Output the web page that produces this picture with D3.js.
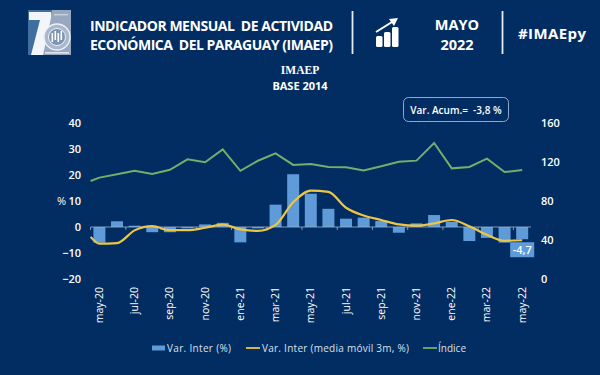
<!DOCTYPE html>
<html><head><meta charset="utf-8">
<script src="https://cdnjs.cloudflare.com/ajax/libs/d3/7.8.5/d3.min.js"></script>
<style>
html,body{margin:0;padding:0;background:#022d63;overflow:hidden}
svg{display:block}
text{font-family:"Open Sans",sans-serif;fill:#fff}
</style></head><body>
<svg id="c" width="600" height="375"></svg>
<script>
const categories=["may-20","jun-20","jul-20","ago-20","sep-20","oct-20","nov-20","dic-20","ene-21","feb-21","mar-21","abr-21","may-21","jun-21","jul-21","ago-21","sep-21","oct-21","nov-21","dic-21","ene-22","feb-22","mar-22","abr-22","may-22"];
const tickLabels=["may-20","jul-20","sep-20","nov-20","ene-21","mar-21","may-21","jul-21","sep-21","nov-21","ene-22","mar-22","may-22"];
const varInter=[-6,2.2,0.5,-2,-2,-0.5,1,1.6,-5.9,-0.5,8.6,20.3,12.8,7,3.2,3.6,2.3,-2.2,1.4,4.6,2,-5.4,-4.2,-6,-4.7];
const media3m=[-6.4,-6.2,-1.3,0.3,-1.2,-1.2,-0.3,0.9,-0.9,-1.5,0.8,9.5,14,13.5,7.4,4.4,2.7,1,0.5,1.4,2.7,0.3,-3,-5.3,-5.1];
const indice=[104,107.4,111,107.7,112,122.7,119.7,133,111,121.3,128.9,117,118,114.9,114.5,111.4,115.6,120.3,121.4,139.5,113.5,114.9,123.4,109.7,111.8];
const mediaLead=-3.8, indiceLead=100.5;
const leftTicks=[40,30,20,10,0,-10,-20];
const rightTicks=[160,120,80,40,0];
const legendItems=["Var. Inter (%)","Var. Inter (media móvil 3m, %)","Índice"];
const colBar="#5f9bd8",colMed="#eec643",colIdx="#73ae6a",txt2="#d8e0ec";

const svg=d3.select("#c");
const x=d3.scaleBand().domain(categories).range([90.6,531]);
const yL=d3.scaleLinear().domain([-20,40]).range([279,123]);
const yR=d3.scaleLinear().domain([0,160]).range([279,123]);
const cx=c=>x(c)+x.bandwidth()/2;
const barW=x.bandwidth()*0.68;

// header
const title=[["INDICADOR MENSUAL  DE ACTIVIDAD",31],["ECONÓMICA  DEL PARAGUAY (IMAEP)",50]];
svg.selectAll("text.t").data(title).join("text").attr("class","t")
 .attr("x",90).attr("y",d=>d[1]).attr("font-size",14).attr("font-weight",700)
 .attr("textLength",243).attr("lengthAdjust","spacing").attr("xml:space","preserve").style("white-space","pre").text(d=>d[0]);
[352.5,502.5].forEach(v=>svg.append("line").attr("x1",v).attr("x2",v).attr("y1",11).attr("y2",54).attr("stroke","#e6ecf4").attr("stroke-width",1.8));
svg.append("text").attr("x",457).attr("y",30).attr("text-anchor","middle").attr("font-size",14.5).attr("font-weight",700).text("MAYO");
svg.append("text").attr("x",457).attr("y",50).attr("text-anchor","middle").attr("font-size",14.5).attr("font-weight",700).text("2022");
svg.append("text").attr("x",518).attr("y",39).attr("font-size",15).attr("font-weight",700).attr("textLength",68).text("#IMAEpy");
svg.append("text").attr("x",300).attr("y",74).attr("text-anchor","middle").attr("font-size",11.5).attr("font-weight",700).style("font-family","'Liberation Serif',serif").text("IMAEP");
svg.append("text").attr("x",300).attr("y",90).attr("text-anchor","middle").attr("font-size",11).attr("font-weight",700).text("BASE 2014");

// logo
const lg=svg.append("g");
lg.append("rect").attr("x",28).attr("y",10).attr("width",43).attr("height",45).attr("fill","#97a8c0");
lg.append("path").attr("d","M28 10H52L42 55H28Z").attr("fill","#3f6f9f");
lg.append("path").attr("d","M29 12H51V18L43 55H31L40 20H29Z").attr("fill","#f2f5f9");
lg.append("circle").attr("cx",57).attr("cy",37).attr("r",13).attr("fill","#a9b8cc").attr("stroke","#eef1f6").attr("stroke-width",1.3);
lg.append("circle").attr("cx",57).attr("cy",37).attr("r",8.5).attr("fill","#7d94b3").attr("stroke","#eef1f6").attr("stroke-width",1);
[52.5,55.5,58.5,61.5].forEach((v,i)=>lg.append("rect").attr("x",v-1).attr("y",33-(i%2)*2).attr("width",1.6).attr("height",9).attr("fill","#fff"));
lg.append("rect").attr("x",45).attr("y",52).attr("width",24).attr("height",1.6).attr("fill","#dfe5ee");
lg.append("rect").attr("x",54).attr("y",14).attr("width",14).attr("height",1.4).attr("fill","#c9d3e0");

// icon
const ic=svg.append("g").attr("fill","#fff");
[[376,36,6.5,11],[384,32,6.5,15],[392,27,6.5,20]].forEach(r=>ic.append("rect").attr("x",r[0]).attr("y",r[1]).attr("width",r[2]).attr("height",r[3]).attr("rx",1.5));
ic.append("path").attr("d","M376 32L392 22").attr("stroke","#fff").attr("stroke-width",2).attr("fill","none");
ic.append("path").attr("d","M389 19L398 18L394 26Z");

// accumulated box
svg.append("rect").attr("x",403.5).attr("y",97.5).attr("width",105).attr("height",24).attr("rx",5).attr("fill","none").attr("stroke","#8fa9cc").attr("stroke-width",1);
svg.append("text").attr("x",456).attr("y",114).attr("text-anchor","middle").attr("font-size",10).attr("font-weight",600).attr("xml:space","preserve").style("white-space","pre").text("Var. Acum.=  -3,8 %");

// axes
const axL=svg.append("g").attr("transform","translate(81,0)").call(d3.axisLeft(yL).tickValues(leftTicks).tickSize(0).tickPadding(0));
const axR=svg.append("g").attr("transform","translate(541,0)").call(d3.axisRight(yR).tickValues(rightTicks).tickSize(0).tickPadding(0));
[axL,axR].forEach(a=>{a.select(".domain").remove();a.selectAll("text").attr("font-size",11).attr("font-weight",600).attr("fill","#fff").style("font-family","'Open Sans',sans-serif");});
svg.append("text").attr("x",57).attr("y",205).attr("font-size",11).attr("font-weight",500).text("%");

const axB=svg.append("g").attr("transform","translate(0,283)").call(d3.axisBottom(x).tickValues(tickLabels).tickSize(0).tickPadding(0));
axB.select(".domain").remove();
axB.selectAll("text").attr("font-size",10.5).attr("font-weight",400).attr("fill",txt2).style("font-family","'Open Sans',sans-serif")
 .attr("text-anchor","end").attr("dy",0).attr("x",0).attr("y",0).attr("transform","rotate(-90) translate(-4,3.5)");

// bars
svg.append("g").selectAll("rect").data(categories).join("rect")
 .attr("x",c=>cx(c)-barW/2).attr("width",barW)
 .attr("y",(c,i)=>Math.min(yL(0),yL(varInter[i])))
 .attr("height",(c,i)=>Math.abs(yL(varInter[i])-yL(0)))
 .attr("fill",colBar);

// zero line with ticks at band edges
const z=yL(0);
svg.append("line").attr("x1",x.range()[0]).attr("x2",x.range()[1]).attr("y1",z).attr("y2",z).attr("stroke","#9fb3cf").attr("stroke-width",0.8);
svg.append("g").selectAll("line").data(tickLabels).join("line")
 .attr("x1",c=>x(c)).attr("x2",c=>x(c)).attr("y1",z).attr("y2",z+3).attr("stroke","#9fb3cf").attr("stroke-width",0.8);

// lines: start half a step before the first category
const xPos=[cx(categories[0])-x.step()/2,...categories.map(cx)];
const mk=(vals,y,curve)=>d3.line().x((d,i)=>xPos[i]).y(d=>y(d)).curve(curve)(vals);
svg.append("path").attr("d",mk([indiceLead,...indice],yR,d3.curveLinear)).attr("fill","none").attr("stroke",colIdx).attr("stroke-width",2);
svg.append("path").attr("d",mk([mediaLead,...media3m],yL,d3.curveMonotoneX)).attr("fill","none").attr("stroke",colMed).attr("stroke-width",2.2);

// data label
const last=categories[categories.length-1];
svg.append("rect").attr("x",cx(last)-12).attr("y",yL(varInter[24])+3).attr("width",24).attr("height",15).attr("fill",colBar);
svg.append("text").attr("x",cx(last)).attr("y",yL(varInter[24])+15).attr("text-anchor","middle").attr("font-size",11).attr("font-weight",600).text("-4,7");

// legend
const ly=348;
svg.append("rect").attr("x",152).attr("y",ly-2.5).attr("width",13).attr("height",5).attr("fill",colBar);
svg.append("line").attr("x1",246).attr("x2",260).attr("y1",ly).attr("y2",ly).attr("stroke",colMed).attr("stroke-width",1.8);
svg.append("line").attr("x1",423).attr("x2",437).attr("y1",ly).attr("y2",ly).attr("stroke",colIdx).attr("stroke-width",1.8);
[[167,64],[262,147],[438,28]].forEach((p,i)=>svg.append("text").attr("x",p[0]).attr("y",ly+3.5).attr("font-size",10).style("fill",txt2).attr("textLength",p[1]).text(legendItems[i]));
</script>
</body></html>
